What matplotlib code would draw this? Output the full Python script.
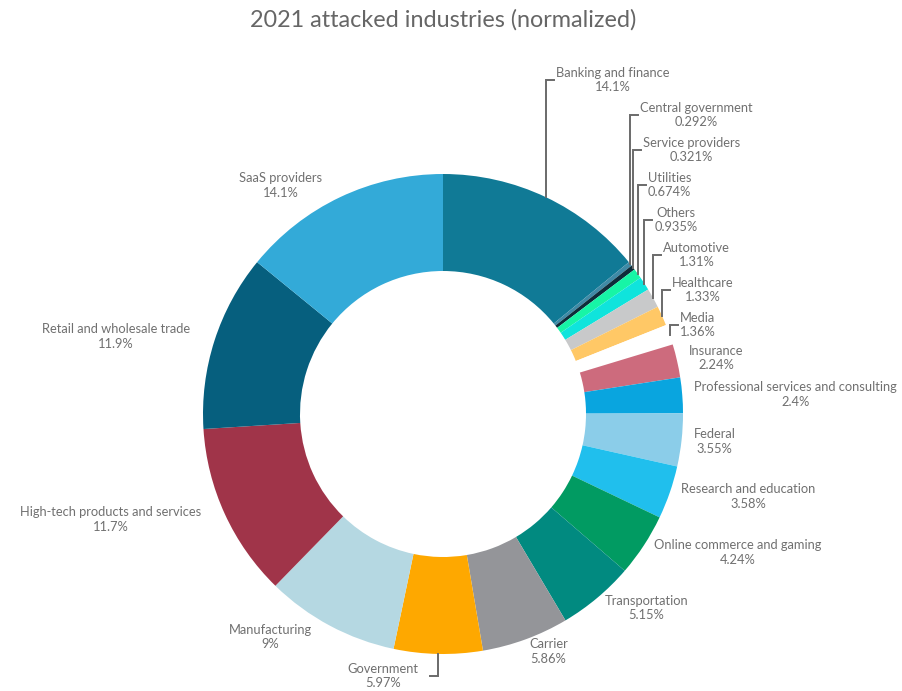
import numpy as np
import matplotlib.pyplot as plt

plt.rcParams['font.family'] = ['Lato', 'DejaVu Sans']

# 数据
industries = ['Banking and finance', 'Central government', 'Service providers', 'Utilities',
              'Others', 'Automotive', 'Healthcare', 'Media', 'Insurance',
              'Professional services and consulting', 'Federal', 'Research and education',
              'Online commerce and gaming', 'Transportation', 'Carrier', 'Government',
              'Manufacturing', 'High-tech products and services', 'Retail and wholesale trade',
              'SaaS providers']
values = [14.1, 0.292, 0.321, 0.674, 0.935, 1.31, 1.33, 1.36, 2.24, 2.4, 3.55, 3.58,
          4.24, 5.15, 5.86, 5.97, 9, 11.7, 11.9, 14.1]
value_labels = ['14.1%', '0.292%', '0.321%', '0.674%', '0.935%', '1.31%', '1.33%', '1.36%',
                '2.24%', '2.4%', '3.55%', '3.58%', '4.24%', '5.15%', '5.86%', '5.97%',
                '9%', '11.7%', '11.9%', '14.1%']
colors = ['#107a96', '#3f8aa6', '#0e2c3a', '#17f5a6', '#0fe4dc', '#c8c9ca', '#ffc866',
          '#ffffff', '#cd6b7d', '#09a5df', '#8bcde9', '#20bfed', '#019b62', '#018a80',
          '#949599', '#fea800', '#b5d8e2', '#a03449', '#065f7e', '#33aad8']

W, H = 903, 691
cx, cy = 443, H - 414
R, ring = 240, 97
txt_color = '#707070'
line_color = '#6a6a6a'

fig = plt.figure(figsize=(W / 100, H / 100), dpi=100)
ax = fig.add_axes([0, 0, 1, 1])

ax.pie(values, colors=colors, startangle=90, counterclock=False, radius=R, center=(cx, cy),
       wedgeprops=dict(width=ring, linewidth=0), frame=True)
ax.set_xlim(0, W)
ax.set_ylim(0, H)
ax.axis('off')

# 每块中间的角度
total = sum(values)
cum = np.cumsum([0] + values[:-1])
mids = np.deg2rad(90 - 360 * (cum + np.array(values) / 2) / total)

fs = 9.3
for i, (name, lab, t) in enumerate(zip(industries, value_labels, mids)):
    text = name + '\n' + lab
    if i < 8:
        # 右上角小块：折线引出
        x0, y0 = cx + R * np.cos(t), cy + R * np.sin(t)
        yl = H - (80 + 35 * i)
        ax.plot([x0, x0, x0 + 8], [y0, yl, yl], color=line_color, lw=1.4, solid_joinstyle='miter')
        ax.text(x0 + 10, yl, text, ha='left', va='center', multialignment='center',
                fontsize=fs, color=txt_color, linespacing=1.25)
    elif name == 'Government':
        x0, y0 = cx + R * np.cos(t), cy + R * np.sin(t)
        yl = y0 - 22
        ax.plot([x0, x0, x0 - 8], [y0, yl, yl], color=line_color, lw=1.4, solid_joinstyle='miter')
        ax.text(x0 - 20, yl, text, ha='right', va='center', multialignment='center',
                fontsize=fs, color=txt_color, linespacing=1.25)
    else:
        x0, y0 = cx + (R + 13) * np.cos(t), cy + (R + 13) * np.sin(t)
        if np.cos(t) > 0:
            ax.text(x0 - 1, y0, text, ha='left', va='center', multialignment='center',
                    fontsize=fs, color=txt_color, linespacing=1.25)
        else:
            ax.text(x0 - 12, y0, text, ha='right', va='center', multialignment='center',
                    fontsize=fs, color=txt_color, linespacing=1.25)

ax.text(W / 2 - 8, H - 20, '2021 attacked industries (normalized)', ha='center', va='center',
        fontsize=16.8, color='#666666')

plt.savefig('out.png', dpi=100)
